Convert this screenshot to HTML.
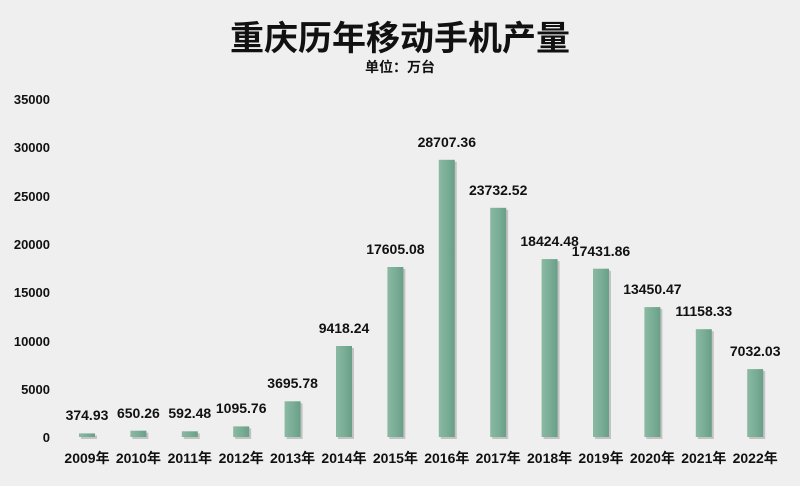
<!DOCTYPE html>
<html><head><meta charset="utf-8"><style>
body{margin:0;width:800px;height:481px;background:#efefef;overflow:hidden}
svg text{font-family:"Liberation Sans","Noto Sans CJK SC",sans-serif;font-weight:bold;fill:#111}
</style></head><body>
<svg width="800" height="481" xmlns="http://www.w3.org/2000/svg">
<defs><linearGradient id="g" x1="0" x2="1" y1="0" y2="0">
<stop offset="0" stop-color="#8ab9a3"/><stop offset="0.5" stop-color="#7aae96"/><stop offset="1" stop-color="#6a9f87"/></linearGradient></defs>
<text x="400" y="50" font-size="34" text-anchor="middle">重庆历年移动手机产量</text>
<text x="400" y="72" font-size="14" text-anchor="middle">单位：万台</text>
<g font-size="13" text-anchor="end">
<text x="50" y="104">35000</text><text x="50" y="152">30000</text><text x="50" y="201">25000</text>
<text x="50" y="249">20000</text><text x="50" y="297">15000</text><text x="50" y="346">10000</text>
<text x="50" y="394">5000</text><text x="50" y="442">0</text></g>
<g fill="#000" opacity="0.18">
<rect x="81" y="435.4" width="16" height="3.6"/><rect x="132.4" y="432.7" width="16" height="6.3"/><rect x="183.8" y="433.3" width="16" height="5.7"/><rect x="235.2" y="428.4" width="16" height="10.6"/><rect x="286.6" y="403.3" width="16" height="35.7"/><rect x="338" y="348" width="16" height="91"/><rect x="389.4" y="269" width="16" height="170"/><rect x="440.8" y="161.8" width="16" height="277.2"/><rect x="492.2" y="209.8" width="16" height="229.2"/><rect x="543.6" y="261.1" width="16" height="177.9"/><rect x="595" y="270.7" width="16" height="168.3"/><rect x="646.4" y="309.1" width="16" height="129.9"/><rect x="697.8" y="331.2" width="16" height="107.8"/><rect x="749.2" y="371.1" width="16" height="67.9"/>
</g>
<g fill="url(#g)">
<rect x="79" y="433.4" width="16" height="3.6"/><rect x="130.4" y="430.7" width="16" height="6.3"/><rect x="181.8" y="431.3" width="16" height="5.7"/><rect x="233.2" y="426.4" width="16" height="10.6"/><rect x="284.6" y="401.3" width="16" height="35.7"/><rect x="336" y="346" width="16" height="91"/><rect x="387.4" y="267" width="16" height="170"/><rect x="438.8" y="159.8" width="16" height="277.2"/><rect x="490.2" y="207.8" width="16" height="229.2"/><rect x="541.6" y="259.1" width="16" height="177.9"/><rect x="593" y="268.7" width="16" height="168.3"/><rect x="644.4" y="307.1" width="16" height="129.9"/><rect x="695.8" y="329.2" width="16" height="107.8"/><rect x="747.2" y="369.1" width="16" height="67.9"/>
</g>
<g font-size="14" text-anchor="middle">
<text x="87" y="420">374.93</text><text x="138.4" y="418">650.26</text><text x="189.8" y="418">592.48</text><text x="241.2" y="413">1095.76</text><text x="292.6" y="388">3695.78</text><text x="344" y="333">9418.24</text><text x="395.4" y="254">17605.08</text><text x="446.8" y="147">28707.36</text><text x="498.2" y="195">23732.52</text><text x="549.6" y="246">18424.48</text><text x="601" y="256">17431.86</text><text x="652.4" y="294">13450.47</text><text x="703.8" y="316">11158.33</text><text x="755.2" y="356">7032.03</text>
</g>
<g font-size="14" text-anchor="middle">
<text x="87" y="463">2009年</text><text x="138.4" y="463">2010年</text><text x="189.8" y="463">2011年</text><text x="241.2" y="463">2012年</text><text x="292.6" y="463">2013年</text><text x="344" y="463">2014年</text><text x="395.4" y="463">2015年</text><text x="446.8" y="463">2016年</text><text x="498.2" y="463">2017年</text><text x="549.6" y="463">2018年</text><text x="601" y="463">2019年</text><text x="652.4" y="463">2020年</text><text x="703.8" y="463">2021年</text><text x="755.2" y="463">2022年</text>
</g>
</svg></body></html>
